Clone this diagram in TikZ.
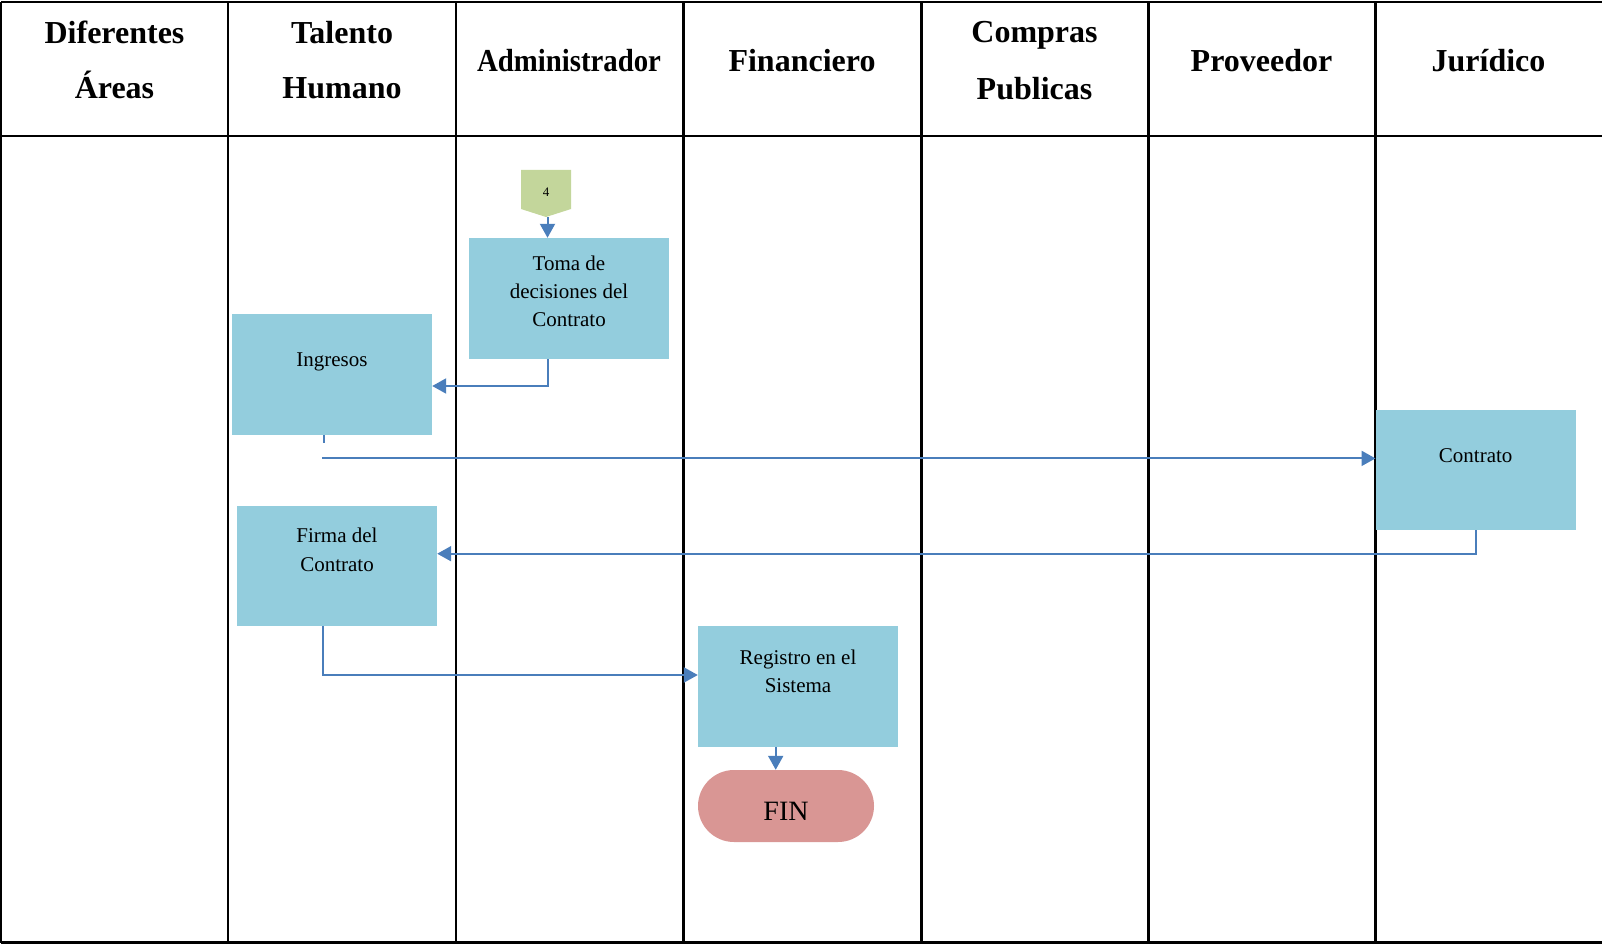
\documentclass[tikz,border=0pt]{standalone}
\usepackage{fontspec}
\setmainfont{Liberation Serif}
\usetikzlibrary{arrows.meta,calc}
\definecolor{boxblue}{HTML}{93CDDD}
\definecolor{conngreen}{HTML}{C3D69B}
\definecolor{endred}{HTML}{D99694}
\definecolor{flowblue}{HTML}{4A7EBB}
\tikzset{
  grid/.style={line width=2.4pt, black},
  hdr/.style={font=\fontsize{32}{38}\selectfont\bfseries, inner sep=0pt, anchor=base},
  procbox/.style={fill=boxblue, draw=none, inner sep=0pt, minimum width=200pt, minimum height=121pt},
  txt/.style={font=\fontsize{21}{26}\selectfont, inner sep=0pt, anchor=base},
  flow/.style={draw=flowblue, line width=2pt, -{Triangle[length=14pt,width=15pt]}},
  flowline/.style={draw=flowblue, line width=2pt},
}
\begin{document}
\begin{tikzpicture}[x=1pt,y=-1pt]
\useasboundingbox (0,0) rectangle (1602,944);

% swimlane table
\draw[grid] (1.2,2) -- (1602,2);
\draw[grid] (1.2,136) -- (1602,136);
\draw[grid] (1.2,942.5) -- (1602,942.5);
\foreach \x in {1.2,228,456,683.5,921.5,1148.3,1375.3}
  \draw[grid] (\x,2) -- (\x,942.5);

% lane headers
\node[hdr] (h1a) at (114.5,44) {Diferentes};
\node[hdr] (h1b) at (114.5,98.5) {Áreas};
\node[hdr] (h2a) at (342,44) {Talento};
\node[hdr] (h2b) at (342,98.5) {Humano};
\node[hdr] (h3) at (569,71.7) {\scalebox{0.9}[1]{Administrador}};
\node[hdr] (h4) at (802,71.7) {Financiero};
\node[hdr] (h5a) at (1034.5,43) {Compras};
\node[hdr] (h5b) at (1034.5,99.5) {Publicas};
\node[hdr] (h6) at (1261.5,71.7) {Proveedor};
\node[hdr] (h7) at (1488.5,71.7) {Jurídico};

% off-page connector
\fill[conngreen] (521,170) -- (571,170) -- (571,209) -- (546,217) -- (521,209) -- cycle;
\coordinate (c4tip) at (547.5,217);
\node[font=\fontsize{13}{15}\selectfont, inner sep=0pt] (c4) at (546,192) {4};

% process boxes
\node[procbox] (toma) at (569,298.5) {};
\node[txt] (toma1) at (569,270) {Toma de};
\node[txt] (toma2) at (569,298.4) {decisiones del};
\node[txt] (toma3) at (569,326.8) {Contrato};

\node[procbox] (ingresos) at (332,374.5) {};
\node[txt] (ingresos1) at (332,366.7) {Ingresos};

\node[procbox, minimum height=120pt] (contrato) at (1475.7,470.2) {};
\node[txt] (contrato1) at (1475.7,462.7) {Contrato};

\node[procbox, minimum height=120pt] (firma) at (337,566) {};
\node[txt] (firma1) at (337,542.5) {Firma del};
\node[txt] (firma2) at (337,571.5) {Contrato};

\node[procbox] (registro) at (798,686.5) {};
\node[txt] (registro1) at (798,664) {Registro en el};
\node[txt] (registro2) at (798,692.7) {Sistema};

\node[fill=endred, draw=none, rounded corners=36pt, minimum width=176pt, minimum height=72pt, inner sep=0pt] (fin) at (786,806) {};
\node[font=\fontsize{28}{32}\selectfont, inner sep=0pt, anchor=base] (fin1) at (786,820) {FIN};

% flow connectors
\draw[flow] (c4tip) -- (c4tip |- toma.north);
\draw[flow] (c4tip |- toma.south) |- ($(ingresos.east)+(0,11.5)$);
\draw[flowline] ($(ingresos.south)+(-8,0)$) -- ++(0,8);
\coordinate (hstart) at ($(ingresos.south)+(-10,23.2)$);
\draw[flow] (hstart) -- (hstart -| contrato.west);
\draw[flow] (contrato.south) |- ($(firma.east)+(0,-12.3)$);
\draw[flow] ($(firma.south)+(-14,0)$) |- ($(registro.west)+(0,-11.5)$);
\coordinate (regout) at ($(registro.south)+(-22.3,0)$);
\draw[flow] (regout) -- (regout |- fin.north);
\end{tikzpicture}
\end{document}
